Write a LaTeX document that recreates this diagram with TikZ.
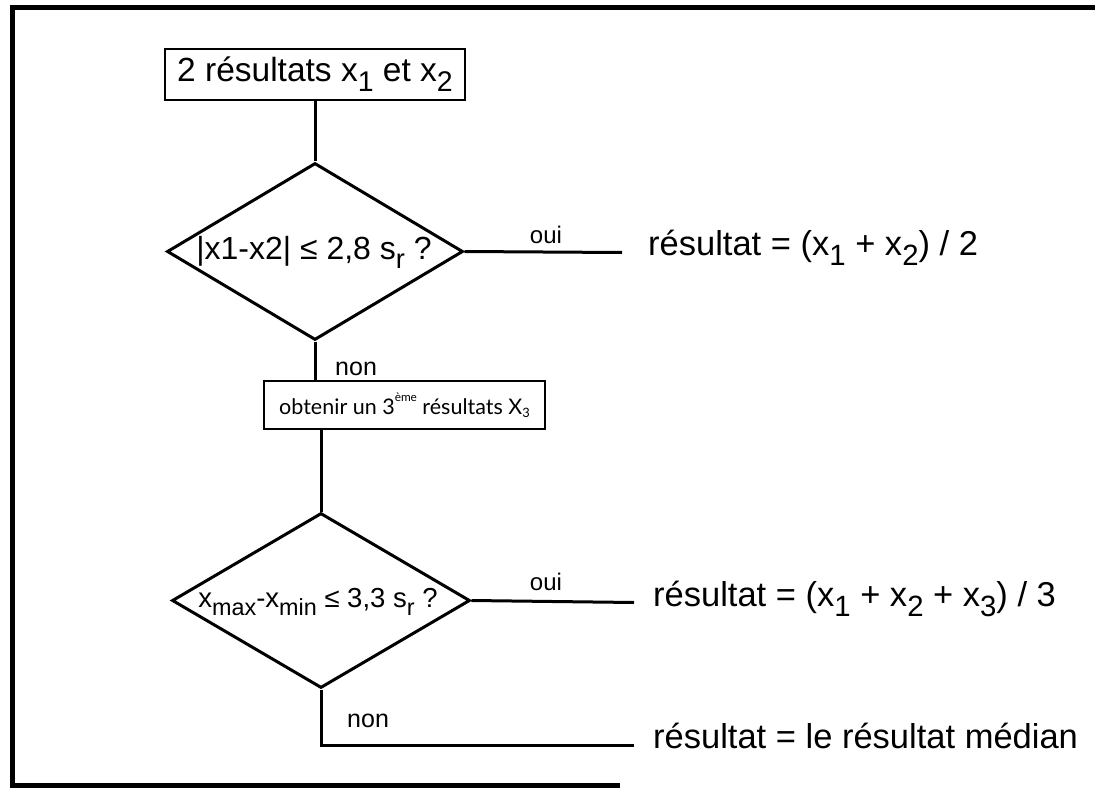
\documentclass[tikz,border=0pt]{standalone}
\usepackage{fontspec}
\setmainfont{Liberation Sans}
\newfontfamily\comicfont{Lato}
\usetikzlibrary{shapes.geometric}
\newcommand{\dn}[1]{\raisebox{-0.3em}{\scalebox{0.85}{#1}}}
\newcommand{\cdn}[1]{\raisebox{-0.12em}{\scalebox{0.6}{#1}}}
\newcommand{\upx}[1]{\raisebox{0.62em}{\scalebox{0.55}{#1}}}
\tikzset{
  frameline/.style={line width=5pt},
  conn/.style={line width=3pt},
  boxone/.style={draw, line width=2.5pt, minimum width=300pt, minimum height=51pt, inner sep=0pt, font=\fontsize{33.5}{38}\selectfont},
  boxtwo/.style={draw, line width=1.6pt, minimum width=281pt, minimum height=48pt, inner sep=0pt, font=\comicfont\fontsize{21.5}{26}\selectfont},
  dia/.style={draw, diamond, line width=3pt, minimum width=296pt, minimum height=177pt, inner sep=0pt, shape aspect=1.67},
  dtext/.style={anchor=base, inner sep=0pt},
  restext/.style={anchor=base west, inner sep=0pt, font=\fontsize{34.5}{40}\selectfont},
  small/.style={anchor=base, inner sep=0pt, font=\fontsize{24}{28}\selectfont},
  nonlab/.style={anchor=base west, inner sep=0pt, font=\fontsize{25}{30}\selectfont}
}
\begin{document}
\begin{tikzpicture}[x=1pt,y=-1pt]
\useasboundingbox (0,0) rectangle (1095,789);
% outer frame
\draw[frameline] (1095,8) -- (12,8) -- (12,785) -- (620,785);

% nodes
\node[boxone] (b1) at (315,74.5) {2 résultats x\dn{1} et x\dn{2}};
\node[dia] (d1) at (315,251.5) {};
\node[dtext, font=\fontsize{32}{38}\selectfont] (t1) at (314,259) {|x1-x2| ≤ 2,8 s\dn{r} ?};
\node[boxtwo] (b2) at (404.5,405) {obtenir un 3\upx{ème} résultats X\cdn{3}};
\node[dia, minimum width=298pt, minimum height=175pt] (d2) at (321,600.5) {};
\node[dtext, font=\fontsize{27.5}{33}\selectfont] (t2) at (318,607) {x\dn{max}-x\dn{min} ≤ 3,3 s\dn{r} ?};

\node[restext] (r1) at (648,255) {résultat = (x\dn{1} + x\dn{2}) / 2};
\node[restext] (r2) at (653,606) {résultat = (x\dn{1} + x\dn{2} + x\dn{3}) / 3};
\node[restext] (r3) at (653,748) {résultat = le résultat médian};

\coordinate (c1) at (622,252.5);
\coordinate (c2) at (634,602.5);
\coordinate (c3) at (634,745.5);

% connectors
\draw[conn] (b1.south) -- (b1.south |- d1.north);
\draw[conn] (d1.south) -- (d1.south |- b2.north);
\draw[conn] (b2.south -| d2.north) -- (d2.north);
\draw[conn] (d1.east) -- (c1);
\draw[conn] (d2.east) -- (c2);
\draw[conn] (d2.south) -- (d2.south |- c3) -- (c3);

% labels
\node[small] (oui1) at (546,243) {oui};
\node[small] (oui2) at (546,590) {oui};
\node[nonlab] (non1) at (335,375) {non};
\node[nonlab] (non2) at (347,727) {non};
\end{tikzpicture}
\end{document}
